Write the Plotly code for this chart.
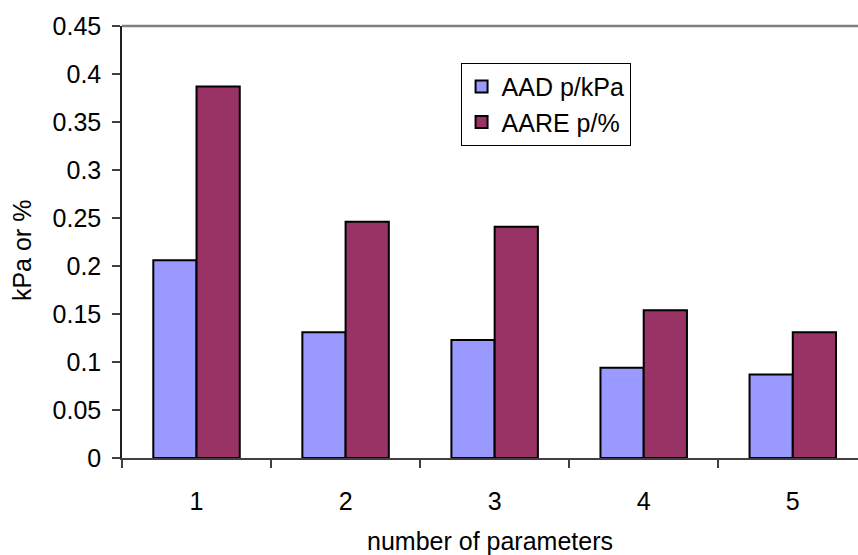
import plotly.graph_objects as go

# number of parameters in the correlation
n_params = [1, 2, 3, 4, 5]
tick_labels = ["1", "2", "3", "4", "5"]

# average absolute deviation in pressure (kPa)
aad_p = [0.206, 0.131, 0.123, 0.094, 0.087]
# average absolute relative error in pressure (%)
aare_p = [0.387, 0.246, 0.241, 0.154, 0.131]

FONT = "Liberation Sans, Arial, sans-serif"
FS = 25

fig = go.Figure()
fig.add_trace(go.Bar(
    x=n_params, y=aad_p, name="AAD p/kPa", legendgroup="a",
    marker=dict(color="#9999FF", line=dict(color="#000000", width=2)),
))
fig.add_trace(go.Bar(
    x=n_params, y=aare_p, name="AARE p/%", legendgroup="b",
    marker=dict(color="#993366", line=dict(color="#000000", width=2)),
))

fig.update_layout(
    width=858, height=555,
    margin=dict(l=122, r=0, t=26, b=97),
    paper_bgcolor="white", plot_bgcolor="white",
    font=dict(family=FONT, size=FS, color="#000000"),
    barmode="group", bargap=0.42, bargroupgap=0,
    showlegend=True,
    legend=dict(
        x=0.46, y=0.915, xanchor="left", yanchor="top",
        bordercolor="#000000", borderwidth=1, bgcolor="white",
        font=dict(family=FONT, size=FS),
        tracegroupgap=16, traceorder="normal",
        itemwidth=30,
    ),
    xaxis=dict(
        range=[0.5, 5.4376], tickmode="array",
        tickvals=n_params, ticktext=tick_labels,
        ticks="", ticklabelstandoff=20,
        showline=True, linecolor="#404040", linewidth=1.5,
        showgrid=False, zeroline=False,
        minor=dict(ticks="outside", tickmode="array",
                   tickvals=[0.5, 1.5, 2.5, 3.5, 4.5, 5.5],
                   ticklen=8, tickcolor="#404040", tickwidth=1.5),
        title=dict(text="number of parameters", standoff=19,
                   font=dict(family=FONT, size=FS)),
    ),
    yaxis=dict(
        range=[0, 0.45], tickmode="linear", tick0=0, dtick=0.05,
        tickformat="~g",
        ticks="outside", ticklen=8, tickcolor="#404040", tickwidth=1.5,
        showline=True, linecolor="#202020", linewidth=1.5,
        showgrid=False, zeroline=False, ticklabelstandoff=6,
    ),
    annotations=[dict(
        text="kPa or %", textangle=-90, showarrow=False,
        xref="paper", yref="paper",
        x=-100 / 736, y=0.479, xanchor="center", yanchor="middle",
        font=dict(family=FONT, size=FS),
    )],
    shapes=[dict(
        type="line", xref="paper", yref="paper",
        x0=0, x1=1, y0=1, y1=1,
        line=dict(color="#808080", width=2.5),
    )],
)

fig.write_html("out.html")
